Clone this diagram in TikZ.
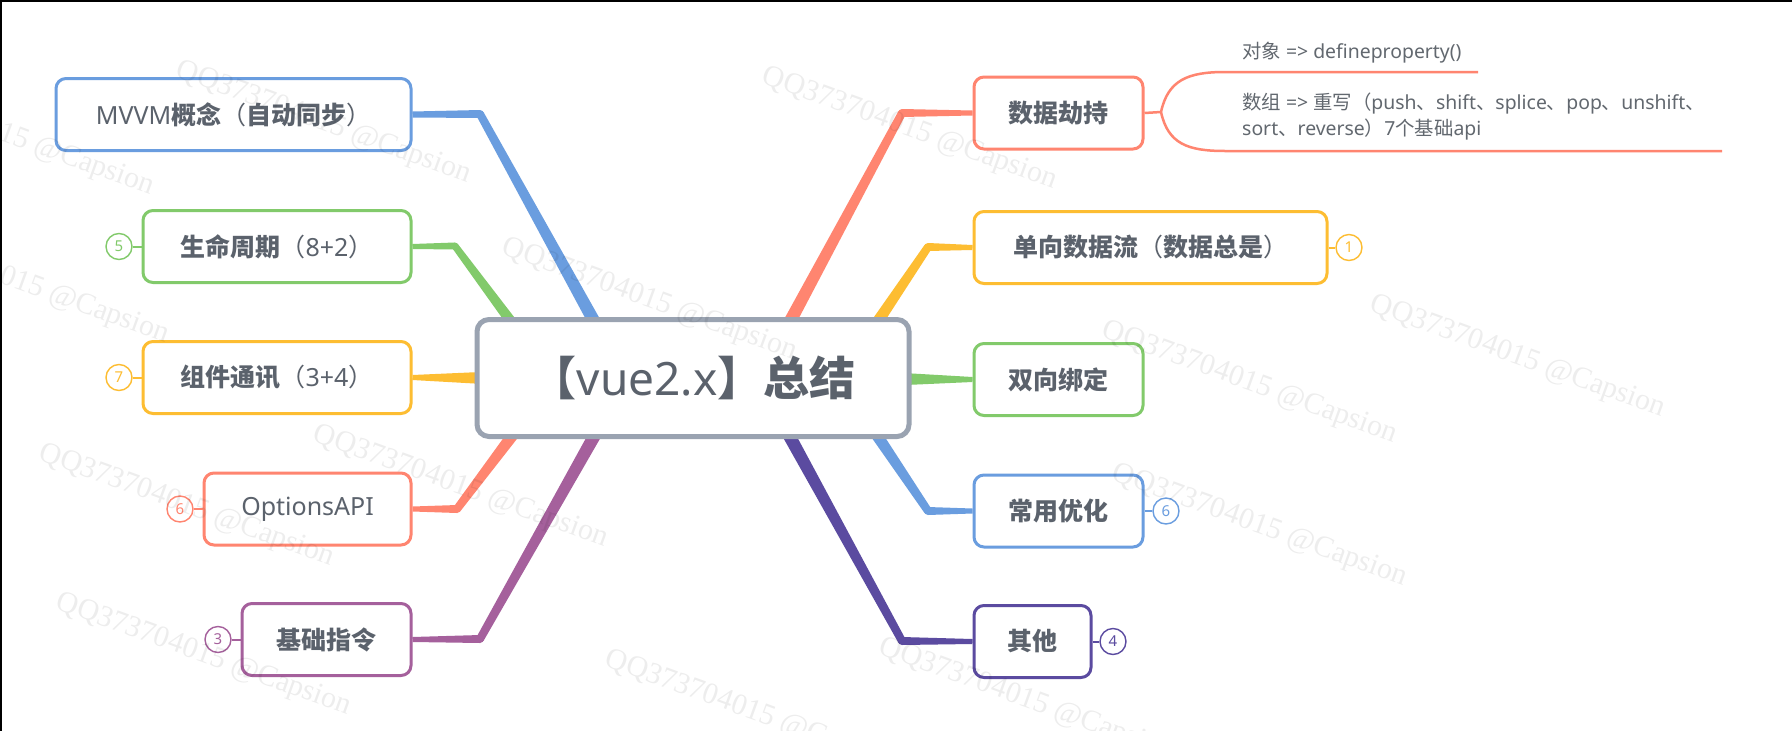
\documentclass[tikz,border=0pt]{standalone}
\usepackage{fontspec}
\setmainfont{Noto Sans}
\newfontfamily\cjk{Noto Sans CJK SC}
\newfontfamily\wmfont{Liberation Serif}
\usetikzlibrary{calc,backgrounds}
\definecolor{cblue}{HTML}{6A9DDF}
\definecolor{csalmon}{HTML}{FF8570}
\definecolor{cgreen}{HTML}{82CA6B}
\definecolor{cyellow}{HTML}{FDBD32}
\definecolor{cpurple}{HTML}{A5609C}
\definecolor{cindigo}{HTML}{5B4BA0}
\definecolor{cgray}{HTML}{9AA3B1}
\definecolor{ctext}{HTML}{5B626C}
\definecolor{cnote}{HTML}{62686F}
\newcommand{\hb}[1]{{\cjk\bfseries #1}}
\newcommand{\cj}[1]{{\cjk #1}}
% color, P0, P1, P2, h0, h1, h2 (half widths)
\newcommand{\branch}[7]{%
  \fill[#1] ($(#2)!#5!90:(#3)$) -- ($(#3)!#6!-90:(#2)$) -- ($(#3)!#6!90:(#2)$) -- ($(#2)!#5!-90:(#3)$) -- cycle;
  \fill[#1] ($(#3)!#6!90:(#4)$) -- ($(#4)!#7!-90:(#3)$) -- ($(#4)!#7!90:(#3)$) -- ($(#3)!#6!-90:(#4)$) -- cycle;
  \fill[#1] (#3) circle[radius=#6];
}
\newcommand{\sbranch}[5]{%
  \fill[#1] ($(#2)!#4!90:(#3)$) -- ($(#3)!#5!-90:(#2)$) -- ($(#3)!#5!90:(#2)$) -- ($(#2)!#4!-90:(#3)$) -- cycle;
}
\tikzset{
  topic/.style={draw=#1, line width=3, rounded corners=10, fill=white, minimum height=72, inner sep=0, text=ctext, font=\fontsize{25}{30}\selectfont},
  badge/.style={draw=#1, circle, line width=1.4, minimum size=26, inner sep=0, fill=white, text=#1, font=\fontsize{15}{18}\selectfont},
  badgeline/.style={draw=#1, line width=2},
  note/.style={text=cnote, inner sep=0, font=\fontsize{19.4}{26}\selectfont},
  wm/.style={text=black, text opacity=0.07, rotate=-20, anchor=west, inner sep=0, font=\wmfont\fontsize{30}{36}\selectfont},
}
\begin{document}
\begin{tikzpicture}[x=1pt,y=-1pt]
\useasboundingbox (0,0) rectangle (1792,731);
% central topic
\node[draw=cgray, line width=5, rounded corners=12, fill=white, minimum width=432, minimum height=117, inner sep=0, text=ctext, font=\fontsize{46}{56}\selectfont] (main) at (693,378) {\hb{【}vue2.x\hb{】总结}};
% left topics
\node[topic=cblue, minimum width=355] (mvvm) at (233.5,114.5) {MVVM\hb{概念}\cj{（}\hb{自动同步}\cj{）}};
\node[topic=cgreen, minimum width=268] (life) at (277,246.5) {\hb{生命周期}\cj{（}8+2\cj{）}};
\node[topic=cyellow, minimum width=268] (comm) at (277,377.5) {\hb{组件通讯}\cj{（}3+4\cj{）}};
\node[topic=csalmon, minimum width=207] (opt) at (307.5,509) {OptionsAPI};
\node[topic=cpurple, minimum width=169] (dir) at (326.5,639.5) {\hb{基础指令}};
% right topics
\node[topic=csalmon, minimum width=169] (hijack) at (1058.5,113) {\hb{数据劫持}};
\node[topic=cyellow, minimum width=353] (oneway) at (1150.5,247.5) {\hb{单向数据流}\cj{（}\hb{数据总是}\cj{）}};
\node[topic=cgreen, minimum width=169] (twoway) at (1058.5,379.5) {\hb{双向绑定}};
\node[topic=cblue, minimum width=169] (opti) at (1058.5,511) {\hb{常用优化}};
\node[topic=cindigo, minimum width=117] (other) at (1032.5,641.5) {\hb{其他}};
% badges
\node[badge=cgreen] (b5) at (119,246.5) {5};
\node[badge=cyellow] (b7) at (119,377.5) {7};
\node[badge=csalmon] (b6l) at (180,509) {6};
\node[badge=cpurple] (b3) at (218,639.5) {3};
\node[badge=cyellow] (b1) at (1349,247.5) {1};
\node[badge=cblue] (b6r) at (1166,511) {6};
\node[badge=cindigo] (b4) at (1113,641.5) {4};
\draw[badgeline=cgreen] (b5) -- (life);
\draw[badgeline=cyellow] (b7) -- (comm);
\draw[badgeline=csalmon] (b6l) -- (opt);
\draw[badgeline=cpurple] (b3) -- (dir);
\draw[badgeline=cyellow] (oneway) -- (b1);
\draw[badgeline=cblue] (opti) -- (b6r);
\draw[badgeline=cindigo] (other) -- (b4);
% branch coordinates
\coordinate (s1) at (606,343); \coordinate (k1) at (480,114);
\coordinate (s2) at (521,335); \coordinate (k2) at (455,246);
\coordinate (s3) at (492,378);
\coordinate (s4) at (521,424); \coordinate (k4) at (457,509);
\coordinate (s5) at (605,417); \coordinate (k5) at (480,639);
\coordinate (s6) at (779,342); \coordinate (k6) at (902,113);
\coordinate (s7) at (868,336); \coordinate (k7) at (928,247);
\coordinate (s8) at (895,379);
\coordinate (s9) at (868,422); \coordinate (k9) at (928,511);
\coordinate (s10) at (779,417); \coordinate (k10) at (902,641);
\begin{scope}[on background layer]
  \fill[white] (0,0) rectangle (1792,731);
  \branch{cblue}{s1}{k1}{mvvm.east}{6.5pt}{4pt}{3pt}
  \branch{cgreen}{s2}{k2}{life.east}{5.5pt}{3.5pt}{2.5pt}
  \sbranch{cyellow}{s3}{comm.east}{6.5pt}{2.5pt}
  \branch{csalmon}{s4}{k4}{opt.east}{6pt}{4pt}{2.5pt}
  \branch{cpurple}{s5}{k5}{dir.east}{6.5pt}{4pt}{2.5pt}
  \branch{csalmon}{s6}{k6}{hijack.west}{6.5pt}{4pt}{2.5pt}
  \branch{cyellow}{s7}{k7}{oneway.west}{6pt}{4pt}{2.5pt}
  \sbranch{cgreen}{s8}{twoway.west}{6.5pt}{2.5pt}
  \branch{cblue}{s9}{k9}{opti.west}{6pt}{4pt}{2.5pt}
  \branch{cindigo}{s10}{k10}{other.west}{6.5pt}{4pt}{2.5pt}
\end{scope}
% hijack details
\coordinate (hj) at (1161,112);
\coordinate (u1) at (1225,72); \coordinate (u2) at (1478,72);
\coordinate (l1) at (1225,151); \coordinate (l2) at (1722,151);
\draw[csalmon, line width=2.5] (hijack.east) -- (hj);
\draw[csalmon, line width=2.5] (hj) .. controls (1168,80) and (1188,72) .. (u1) -- (u2);
\draw[csalmon, line width=2.5] (hj) .. controls (1168,144) and (1188,151) .. (l1) -- (l2);
\node[note, anchor=west] (t1) at (1242,53) {\cj{对象} => defineproperty()};
\node[note, anchor=north west, align=left] (t2) at (1242,93) {\cj{数组} => \cj{重写（}push\cj{、}shift\cj{、}splice\cj{、}pop\cj{、}unshift\cj{、}\\sort\cj{、}reverse\cj{）}7\cj{个基础}api};
% frame
\draw[black, line width=2] (0,1) -- (1792,1);
\draw[black, line width=1.5] (0.75,0) -- (0.75,731);
% watermarks
\foreach \p/\n in {{(177,70)}/w1,{(763,76)}/w2,{(503,247)}/w3,{(1103,330)}/w4,{(1371,304)}/w5,{(1113,473)}/w6,{(314,434)}/w7,{(57,602)}/w8,{(606,659)}/w9,{(880,647)}/w10,{(-140,82)}/w11,{(-125,230)}/w12,{(40,453)}/w13}
  \node[wm] (\n) at \p {QQ373704015 @Capsion};
\end{tikzpicture}
\end{document}
